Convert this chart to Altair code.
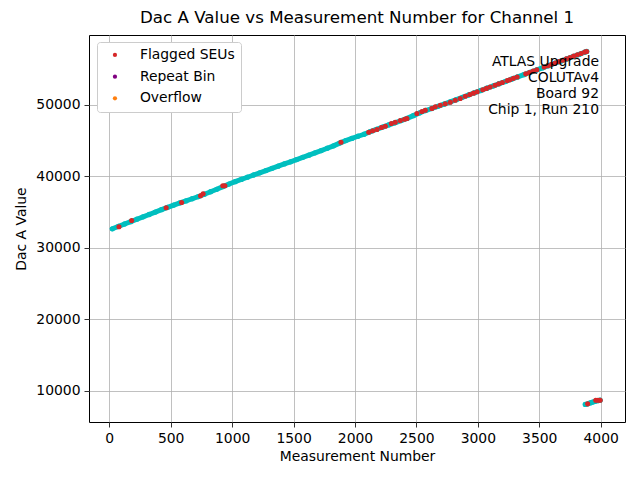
import altair as alt
import pandas as pd

# ---- data ----
# cyan: all measurements (sampled along the trace)
meas_x = [25, 75, 125, 175, 225, 275, 325, 375, 425, 475, 525, 575, 625, 675, 725,
          775, 825, 875, 925, 975, 1025, 1075, 1125, 1175, 1225, 1275, 1325, 1375,
          1425, 1475, 1525, 1575, 1625, 1675, 1725, 1775, 1825, 1875, 1925, 1975,
          2025, 2075, 2125, 2175, 2225, 2275, 2325, 2375, 2425, 2475, 2525, 2575,
          2625, 2675, 2725, 2775, 2825, 2875, 2925, 2975, 3025, 3075, 3125, 3175,
          3225, 3275, 3325, 3375, 3425, 3475, 3525, 3575, 3625, 3675, 3725, 3775,
          3825, 3875, 3886,
          3875, 3895, 3915, 3935, 3955, 3975, 3995]
meas_y = [32660, 32990, 33330, 33660, 34000, 34330, 34660, 35000, 35330, 35660,
          35980, 36280, 36560, 36860, 37160, 37490, 37840, 38180, 38560, 38920,
          39250, 39560, 39870, 40180, 40490, 40800, 41110, 41420, 41730, 42030,
          42340, 42650, 42960, 43280, 43600, 43920, 44260, 44640, 44990, 45300,
          45600, 45880, 46250, 46570, 46880, 47180, 47480, 47790, 48100, 48480,
          48860, 49200, 49480, 49790, 50090, 50400, 50720, 51050, 51370, 51690,
          52000, 52320, 52630, 52950, 53260, 53580, 53890, 54210, 54520, 54840,
          55150, 55470, 55780, 56100, 56420, 56730, 57050, 57380, 57450,
          8100, 8180, 8300, 8420, 8530, 8620, 8680]
meas_seg = ["upper"] * 79 + ["lower"] * 7

# red: flagged SEUs
seu_x = [79, 182, 463, 589, 743, 764, 924, 941, 1886,
         2112, 2144, 2179, 2215, 2247, 2296, 2328, 2369, 2404, 2423,
         2504, 2545, 2572, 2626, 2654, 2694, 2735, 2776, 2816, 2857, 2898,
         2935, 2965, 2995, 3040, 3070, 3100, 3140, 3170, 3200, 3240, 3260,
         3290, 3320, 3390, 3420, 3450, 3480, 3540, 3570, 3600, 3630, 3660,
         3690, 3720, 3750, 3780, 3810, 3840, 3870, 3886,
         3894, 3960, 3978, 3996]
seu_y = [32937, 33819, 35594, 36336, 37273, 37553, 38671, 38671, 44769,
         46170, 46364, 46545, 46825, 47007, 47385, 47566, 47804, 47986, 48084,
         48783, 49063, 49245, 49483, 49720, 49944, 50140, 50364, 50643, 50881, 51203,
         51440, 51630, 51820, 52100, 52290, 52490, 52740, 52930, 53120, 53380, 53510,
         53700, 53890, 54330, 54520, 54710, 54900, 55280, 55470, 55660, 55850, 56040,
         56230, 56420, 56610, 56800, 56990, 57180, 57370, 57450,
         8180, 8680, 8690, 8690]

legend_names = ["Flagged SEUs", "Repeat Bin", "Overflow"]
legend_colors = ["#d62728", "#800080", "#ff7f0e"]
note_lines = ["ATLAS Upgrade", "COLUTAv4", "Board 92", "Chip 1, Run 210"]

x_ticks = [0, 500, 1000, 1500, 2000, 2500, 3000, 3500, 4000]
y_ticks = [10000, 20000, 30000, 40000, 50000]

FONT = "DejaVu Sans"
CYAN = "#00bfbf"

df_all = pd.DataFrame({"x": meas_x, "y": meas_y, "seg": meas_seg})
df_seu = pd.DataFrame({"x": seu_x, "y": seu_y, "series": ["Flagged SEUs"] * len(seu_x)})

xs = alt.Scale(domain=[-165, 4198], nice=False, zero=False)
ys = alt.Scale(domain=[5640, 59760], nice=False, zero=False)

xenc = alt.X("x:Q", scale=xs, title="Measurement Number",
             axis=alt.Axis(values=x_ticks, format="d", titlePadding=5))
yenc = alt.Y("y:Q", scale=ys, title="Dac A Value",
             axis=alt.Axis(values=y_ticks, format="d", titlePadding=7))

trace = alt.Chart(df_all).mark_line(color=CYAN, strokeWidth=5, strokeCap="round").encode(
    x=xenc, y=yenc, detail="seg:N")
cyan_pts = alt.Chart(df_all).mark_circle(color=CYAN, size=28, opacity=1).encode(
    x=xenc, y=yenc)
red_pts = alt.Chart(df_seu).mark_circle(size=26, opacity=1).encode(
    x=xenc, y=yenc,
    color=alt.Color("series:N",
                    scale=alt.Scale(domain=legend_names, range=legend_colors),
                    legend=alt.Legend(title=None, orient="none", legendX=8, legendY=7,
                                      symbolSize=18, symbolType="circle",
                                      labelFontSize=13.9, labelFont=FONT,
                                      labelOffset=18, symbolOffset=5,
                                      rowPadding=6.7, padding=6,
                                      fillColor="white", strokeColor="#cccccc",
                                      cornerRadius=3, labelColor="black")))

note = alt.Chart(pd.DataFrame({"a": [0]})).mark_text(
    align="right", baseline="top", font=FONT, fontSize=13.9, lineHeight=16,
    color="black").encode(
    x=alt.value(510), y=alt.value(20), text=alt.value(note_lines))

chart = alt.layer(trace, cyan_pts, red_pts, note).properties(
    width=536, height=387,
    autosize=alt.AutoSizeParams(type="none"),
    padding={"left": 81, "top": 27, "right": 7, "bottom": 50},
    title=alt.TitleParams("Dac A Value vs Measurement Number for Channel 1",
                          font=FONT, fontSize=16.7, fontWeight="normal",
                          color="black", offset=8, anchor="middle"),
).configure_view(stroke="black", strokeWidth=1).configure_axis(
    domain=False, grid=True, gridColor="#b0b0b0", gridWidth=0.8,
    tickColor="black", tickSize=5, tickWidth=0.8,
    labelFont=FONT, labelFontSize=13.9, labelColor="black", labelPadding=4,
    titleFont=FONT, titleFontSize=13.9, titleFontWeight="normal", titleColor="black",
)

chart.save("out.html", embed_options={"renderer": "svg", "actions": False})
